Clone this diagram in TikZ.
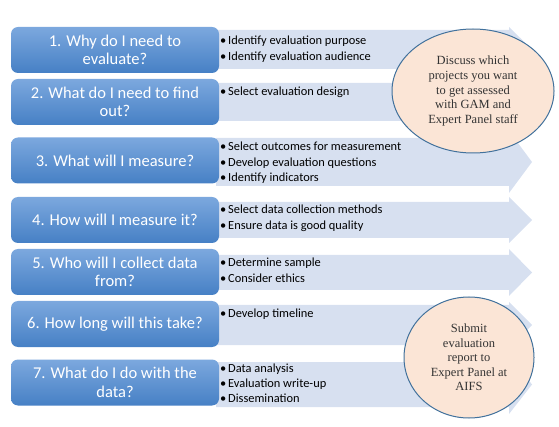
\documentclass[tikz,border=0pt]{standalone}
\usepackage{fontspec}
\newfontfamily\carl{Carlito}
\newfontfamily\tms{Liberation Serif}
\usetikzlibrary{shapes.geometric}
\definecolor{arrowfill}{RGB}{215,224,240}
\definecolor{boxtop}{RGB}{124,168,222}
\definecolor{boxbot}{RGB}{70,128,197}
\definecolor{peach}{RGB}{251,229,214}
\definecolor{ringblue}{RGB}{65,113,156}
\newcommand\bul{\makebox[8pt][l]{\textbullet}}
\newcommand\blist[1]{\begin{tabular}[t]{@{}l@{}}#1\end{tabular}}
\newcommand\bandarrow[3]{%
  \fill[band] (216,#1) -- (509,#1) -- (509,#1-#3) -- (532,{(#1+#2)/2}) -- (509,#2+#3) -- (509,#2) -- (216,#2) -- cycle;}
\tikzset{
  qbox/.style={rounded corners=7pt, top color=boxtop, bottom color=boxbot, minimum width=208pt, minimum height=46pt, text=white, align=center, font=\carl\fontsize{16.5}{18.5}\selectfont, inner sep=0pt},
  blistnode/.style={anchor=base west, inner sep=0pt, font=\carl\fontsize{12.4}{15.2}\selectfont, text=black},
  bubble/.style={ellipse, draw=ringblue, line width=1pt, fill=peach, align=center, font=\tms\fontsize{12.5}{14.6}\selectfont, text=black!80, inner sep=0pt},
  band/.style={fill=arrowfill}
}
\begin{document}
\begin{tikzpicture}[x=1pt,y=-1pt]
\useasboundingbox (0,0) rectangle (559,427);
% arrows
\bandarrow{30}{69}{3}
\bandarrow{83}{121}{5}
\bandarrow{138}{186}{7}
\bandarrow{202}{238}{5}
\bandarrow{255}{290}{6}
\bandarrow{305}{345}{3}
\bandarrow{362}{407}{7}
% question boxes
\node[qbox] (q1) at (115,50) {1. Why do I need to\\evaluate?};
\node[qbox] (q2) at (115,102) {2. What do I need to find\\out?};
\node[qbox] (q3) at (115,160.5) {3. What will I measure?};
\node[qbox] (q4) at (115,220) {4. How will I measure it?};
\node[qbox] (q5) at (115,272) {5. Who will I collect data\\from?};
\node[qbox] (q6) at (115,324) {6. How long will this take?};
\node[qbox] (q7) at (115,382.5) {7. What do I do with the\\data?};
% bullet lists
\node[blistnode] (b1) at (220,45) {\blist{\bul Identify evaluation purpose\\ \bul Identify evaluation audience}};
\node[blistnode] (b2) at (220,96) {\blist{\bul Select evaluation design}};
\node[blistnode] (b3) at (220,151) {\blist{\bul Select outcomes for measurement\\ \bul Develop evaluation questions\\ \bul Identify indicators}};
\node[blistnode] (b4) at (220,214) {\blist{\bul Select data collection methods\\ \bul Ensure data is good quality}};
\node[blistnode] (b5) at (220,267) {\blist{\bul Determine sample\\ \bul Consider ethics}};
\node[blistnode] (b6) at (220,318) {\blist{\bul Develop timeline}};
\node[blistnode] (b7) at (220,372) {\blist{\bul Data analysis\\ \bul Evaluation write-up\\ \bul Dissemination}};
% bubbles
\node[bubble, minimum width=162pt, minimum height=124pt] (c1) at (473,91) {Discuss which\\projects you want\\to get assessed\\with GAM and\\Expert Panel staff};
\node[bubble, minimum width=130pt, minimum height=121pt] (c2) at (469,357.5) {Submit\\evaluation\\report to\\Expert Panel at\\AIFS};
\end{tikzpicture}
\end{document}
